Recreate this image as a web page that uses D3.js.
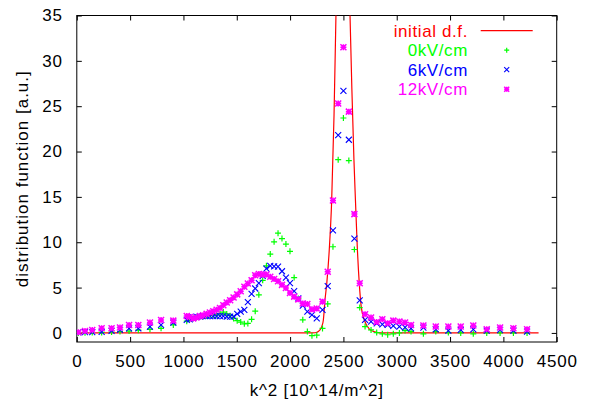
<!DOCTYPE html>
<html>
<head>
<meta charset="utf-8">
<script src="https://cdn.jsdelivr.net/npm/d3@7"></script>
<style>
  body { margin: 0; background: #fff; }
  svg text { font-family: "Liberation Sans", Arial, sans-serif; }
</style>
</head>
<body>
<svg id="chart" width="590" height="403"></svg>
<script>
// k^2 grid of the simulated points (shared by the three field strengths)
var kGrid = [15, 77, 145, 233, 326, 405, 490, 577, 686, 790, 905, 1031,
  1059, 1091, 1122, 1154, 1185, 1217, 1248, 1280, 1311, 1343,
  1374, 1406, 1438, 1470, 1504, 1537, 1571, 1604, 1639, 1673,
  1707, 1743, 1778, 1814, 1850, 1887, 1924, 1961, 1999, 2038,
  2077, 2119, 2162, 2205, 2250, 2304, 2353, 2402, 2451, 2500,
  2551, 2603, 2653, 2703, 2759, 2812, 2865, 2915, 2968, 3025,
  3078, 3134, 3250, 3366, 3484, 3600, 3718, 3844, 3969, 4094, 4222];

var f0kV = [0.0, 0.03, 0.05, 0.06, 0.1, 0.15, 0.2, 0.3, 0.4, 0.51, 0.88, 1.3,
  1.5, 1.6, 1.7, 1.8, 1.8, 1.9, 1.9, 1.95, 2.0, 2.1,
  2.3, 2.1, 1.9, 1.6, 1.35, 1.2, 1.0, 1.05, 1.5, 2.4,
  4.2, 5.8, 7.4, 8.7, 10.05, 11.0, 10.4, 9.8, 9.0, 6.1,
  3.8, 1.45, 0.15, -0.3, -0.25, 0.5, 3.2, 9.5, 19.1, 23.7,
  19.0, 9.2, 2.8, 0.7, 0.33, 0.04, -0.1, -0.2, -0.1, 0,
  0.26, 0.15, -0.1, 0.15, 0.04, 0, -0.1, 0, 0, 0, 0];

var f6kV = [0.05, 0.08, 0.1, 0.12, 0.22, 0.33, 0.51, 0.51, 0.7, 0.88, 1.14, 1.43,
  1.5, 1.7, 1.8, 1.8, 1.85, 1.85, 1.85, 1.85, 1.85, 1.85,
  1.85, 1.8, 1.8, 1.8, 2.1, 2.35, 2.55, 3.4, 4.3, 4.9,
  5.5, 6.3, 7.1, 7.4, 7.35, 7.3, 6.8, 6.1, 5.5, 4.6,
  3.8, 3.0, 2.35, 2.0, 1.6, 2.55, 5.17, 11.3, 21.8, 26.7,
  21.3, 10.4, 3.6, 1.43, 1.25, 1.06, 0.95, 0.88, 0.77, 0.7,
  0.62, 0.51, 0.59, 0.4, 0.26, 0.33, 0.4, 0.26, 0.33, 0.26, 0.15];

var f12kV = [0.07, 0.22, 0.33, 0.51, 0.51, 0.59, 0.88, 0.88, 1.14, 1.43, 1.36, 1.87,
  1.75, 1.6, 1.7, 1.85, 1.95, 2.1, 2.25, 2.4, 2.55, 2.75,
  3.05, 3.35, 3.6, 3.9, 4.25, 4.6, 5.1, 5.45, 5.8, 6.35,
  6.5, 6.45, 6.45, 6.2, 5.95, 5.7, 5.3, 4.95, 4.4, 4.0,
  3.7, 3.25, 3.2, 2.6, 2.7, 3.45, 6.75, 14.6, 25.3, 31.5,
  24.4, 13.1, 5.47, 2.05, 1.7, 1.2, 1.5, 1.06, 1.36, 1.25,
  1.14, 0.88, 0.81, 0.7, 0.7, 0.7, 0.81, 0.4, 0.59, 0.51, 0.4];

// initial distribution function (line)
var initK = [0, 2166, 2235, 2265, 2297, 2312, 2327, 2344, 2367, 2390, 2412, 2430, 2456, 2481,
  2510, 2538, 2562, 2579, 2599, 2613, 2630, 2648, 2667, 2697, 2746, 2786, 2854, 4330];
var initF = [0, 0, 0.02, 0.15, 0.7, 1.43, 3.6, 5.47, 9.1, 14.6, 24, 35, 50, 58,
  58, 48, 35, 27, 19, 14.6, 9.5, 5.6, 2.9, 1.4, 0.4, 0.15, 0, 0];

var xTicks = [0, 500, 1000, 1500, 2000, 2500, 3000, 3500, 4000, 4500];
var yTicks = [0, 5, 10, 15, 20, 25, 30, 35];

var legendNames = ["initial d.f.", "0kV/cm", "6kV/cm", "12kV/cm"];
var colors = ["#ff0000", "#00ff00", "#0000ff", "#ff00ff"];

drawChart();

function drawChart(){
  var svg = d3.select("#chart"),
  margin = {top: 15.5, right: 33.3, bottom: 61, left: 76.8},
  width = +svg.attr("width") - margin.left - margin.right,
  height = +svg.attr("height") - margin.top - margin.bottom,
  g = svg.append("g").attr("transform", "translate(" + margin.left + "," + margin.top + ")");

  var x = d3.scaleLinear().domain([0, 4500]).range([0, width]);
  var y = d3.scaleLinear().domain([-1, 35]).range([height, 0]);

  g.append("clipPath").attr("id", "clip")
    .append("rect").attr("width", width).attr("height", height);

  // ticks on all four sides, pointing inward (gnuplot mirror style)
  var tl = 5;
  g.append("g")
    .attr("transform", "translate(0," + height + ")")
    .call(d3.axisBottom(x).tickValues(xTicks).tickSize(-tl).tickPadding(13).tickFormat(d3.format("d")))
    .call(styleAxis);
  g.append("g")
    .call(d3.axisTop(x).tickValues(xTicks).tickSize(-tl).tickFormat(""))
    .call(styleAxis);
  g.append("g")
    .call(d3.axisLeft(y).tickValues(yTicks).tickSize(-tl).tickPadding(14).tickFormat(d3.format("d")))
    .call(styleAxis);
  g.append("g")
    .attr("transform", "translate(" + width + ",0)")
    .call(d3.axisRight(y).tickValues(yTicks).tickSize(-tl).tickFormat(""))
    .call(styleAxis);

  g.append("rect")
    .attr("width", width).attr("height", height)
    .attr("fill", "none").attr("stroke", "#000").attr("stroke-width", 1);

  var plot = g.append("g").attr("clip-path", "url(#clip)");

  var line = d3.line()
    .x(function(d) { return x(d[0]); })
    .y(function(d) { return y(d[1]); })
    .curve(d3.curveMonotoneX);

  plot.append("path")
    .datum(d3.zip(initK, initF))
    .attr("fill", "none")
    .attr("stroke", colors[0])
    .attr("stroke-width", 1.2)
    .attr("d", line);

  var series = [
    {vals: f0kV, color: colors[1], shape: "plus", sw: 1.2},
    {vals: f6kV, color: colors[2], shape: "cross", sw: 1.1},
    {vals: f12kV, color: colors[3], shape: "star", sw: 1.5}
  ];

  series.forEach(function(s) {
    plot.append("g").selectAll("path")
      .data(d3.zip(kGrid, s.vals))
      .enter().append("path")
      .attr("transform", function(d) { return "translate(" + x(d[0]) + "," + y(d[1]) + ")"; })
      .attr("d", marker(s.shape, 3))
      .attr("fill", "none")
      .attr("stroke", s.color)
      .attr("stroke-width", s.sw);
  });

  // legend
  var legend = g.append("g")
    .attr("font-size", 17)
    .attr("text-anchor", "end")
    .selectAll("g")
    .data(legendNames)
    .enter().append("g")
    .attr("transform", function(d, i) { return "translate(0," + (30.7 - margin.top + i * 19.5) + ")"; });

  legend.append("text")
    .attr("x", 468 - margin.left)
    .attr("dy", "0.35em")
    .attr("fill", function(d, i) { return colors[i]; })
    .style("letter-spacing", "0.6px")
    .text(function(d) { return d; });

  legend.each(function(d, i) {
    var l = d3.select(this);
    if (i == 0) {
      l.append("line")
        .attr("x1", 480.7 - margin.left).attr("x2", 532.7 - margin.left)
        .attr("stroke", colors[0]).attr("stroke-width", 1.2);
    } else {
      l.append("path")
        .attr("transform", "translate(" + (506.7 - margin.left) + ",0)")
        .attr("d", marker(series[i - 1].shape, 2.5))
        .attr("fill", "none")
        .attr("stroke", colors[i])
        .attr("stroke-width", series[i - 1].sw);
    }
  });

  // axis titles
  g.append("text")
    .attr("x", width / 2)
    .attr("y", height + 54)
    .attr("text-anchor", "middle")
    .attr("font-size", 17)
    .style("letter-spacing", "0.8px")
    .text("k^2 [10^14/m^2]");

  g.append("text")
    .attr("transform", "translate(" + (28 - margin.left) + "," + (height / 2) + ") rotate(-90)")
    .attr("text-anchor", "middle")
    .attr("font-size", 17)
    .style("letter-spacing", "1px")
    .text("distribution function [a.u.]");
}

function styleAxis(sel){
  sel.select(".domain").remove();
  sel.selectAll(".tick line").attr("stroke", "#000");
  sel.selectAll(".tick text")
    .attr("fill", "#000")
    .attr("font-size", 17)
    .style("letter-spacing", "0.8px");
}

function marker(shape, r){
  var plus = "M" + (-r) + ",0H" + r + "M0," + (-r) + "V" + r;
  var cross = "M" + (-r) + "," + (-r) + "L" + r + "," + r + "M" + (-r) + "," + r + "L" + r + "," + (-r);
  if (shape == "plus") return plus;
  if (shape == "cross") return cross;
  return plus + cross;
}
</script>
</body>
</html>
